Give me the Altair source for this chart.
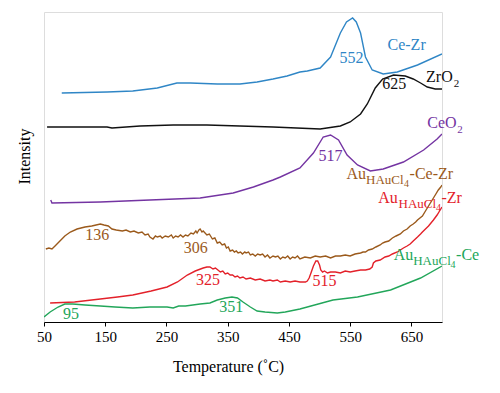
import altair as alt
import pandas as pd

# ---- data (temperature in deg C, intensity in arbitrary units) ----
cezr_t = [79, 153, 195, 235, 267, 289, 333, 370, 398, 424, 447, 468, 480, 501, 518, 534, 544, 554, 560, 567, 575, 586, 604, 627, 660, 700]
cezr_i = [229, 230, 231, 234, 239, 239, 238, 238, 240, 243, 246, 250, 251, 254, 265, 289, 300, 304, 300, 289, 265, 252, 248, 250, 257, 268]

zro2_t = [55, 153, 161, 207, 261, 316, 370, 424, 501, 534, 550, 567, 578, 591, 603, 621, 640, 653, 665, 676, 689, 700]
zro2_i = [195, 195, 194, 196, 197, 197, 196, 195, 193, 196, 200, 208, 218, 234, 243, 247, 246, 243, 239, 235, 233, 233]

ceo2_t = [61, 63, 142, 223, 305, 359, 392, 424, 436, 468, 490, 506, 518, 531, 545, 562, 583, 604, 637, 670, 692, 700]
ceo2_i = [122, 119, 120, 122, 124, 129, 135, 142, 145, 154, 169, 185, 187, 182, 167, 157, 151, 153, 160, 172, 183, 188]

aucezr_t = [53, 58, 63, 68, 76, 84, 93, 104, 117, 128, 142, 148, 155, 161, 168, 178, 184, 191, 197, 204, 210, 215, 220, 223, 228, 232, 235, 240, 243, 248, 253, 258, 261, 265, 269, 273, 277, 281, 285, 290, 294, 298, 300, 303, 305, 308, 310, 316, 320, 325, 329, 333, 337, 341, 345, 348, 351, 354, 358, 361, 364, 367, 371, 374, 378, 380, 384, 387, 391, 395, 399, 403, 407, 411, 415, 419, 424, 428, 432, 436, 440, 444, 448, 452, 456, 460, 464, 468, 476, 485, 493, 501, 510, 518, 526, 534, 542, 550, 558, 567, 571, 575, 580, 586, 592, 599, 603, 607, 613, 619, 625, 632, 637, 643, 648, 653, 657, 660, 664, 668, 672, 676, 681, 686, 690, 694, 698, 700]
aucezr_i = [73, 74, 73, 76, 81, 86, 90, 93, 95, 96, 98, 97, 96, 93, 92, 91, 92, 90, 91, 89, 90, 87, 88, 85, 83, 86, 85, 86, 84, 86, 85, 87, 84, 86, 85, 87, 85, 87, 86, 89, 88, 91, 89, 92, 93, 90, 91, 87, 88, 83, 84, 79, 80, 77, 78, 74, 75, 71, 72, 70, 71, 69, 70, 68, 70, 69, 70, 67, 68, 66, 68, 67, 68, 65, 67, 64, 66, 65, 66, 63, 65, 64, 66, 63, 65, 64, 66, 63, 65, 64, 66, 65, 66, 64, 66, 66, 67, 66, 68, 69, 70, 70, 72, 73, 75, 77, 79, 80, 81, 84, 86, 88, 91, 93, 96, 98, 100, 102, 104, 106, 110, 114, 119, 124, 128, 132, 135, 137]

auzr_t = [60, 100, 142, 170, 195, 225, 251, 268, 284, 297, 310, 316, 321, 326, 330, 338, 342, 346, 350, 354, 358, 362, 366, 370, 375, 380, 387, 395, 403, 411, 419, 424, 431, 436, 444, 452, 460, 468, 477, 480, 483, 486, 490, 494, 497, 500, 502, 505, 508, 513, 518, 526, 534, 542, 550, 558, 567, 575, 582, 586, 588, 592, 599, 607, 613, 619, 627, 632, 637, 643, 648, 653, 660, 665, 668, 673, 678, 686, 692, 696, 700]
auzr_i = [19, 20, 23, 25, 27, 31, 35, 40, 47, 51, 54, 55, 55, 53, 54, 50, 51, 48, 49, 47, 47, 45, 46, 44, 45, 43, 44, 42, 43, 41, 42, 41, 42, 40, 41, 40, 41, 40, 40, 41, 44, 49, 56, 61, 61, 57, 52, 50, 51, 49, 50, 50, 49, 51, 50, 51, 52, 52, 53, 55, 59, 61, 62, 65, 66, 68, 70, 72, 74, 76, 78, 81, 85, 88, 90, 93, 96, 102, 107, 111, 115]

auce_t = [50, 60, 73, 84, 97, 117, 142, 166, 195, 223, 251, 261, 270, 281, 305, 321, 333, 346, 357, 366, 375, 387, 398, 411, 431, 444, 452, 468, 522, 562, 616, 665, 700]
auce_i = [5, 10, 15, 18, 18, 17, 16, 15, 14, 15, 15, 14, 16, 16, 18, 19, 22, 24, 25, 24, 20, 15, 11, 10, 9, 10, 11, 13, 22, 25, 32, 44, 56]

series_names = ["Ce-Zr", "ZrO2", "CeO2", "Au-Ce-Zr", "Au-Zr", "Au-Ce"]
series_colors = ["#2f86c6", "#111111", "#7434a2", "#9b5a1c", "#e3212a", "#22a65a"]
series_data = [(cezr_t, cezr_i), (zro2_t, zro2_i), (ceo2_t, ceo2_i),
               (aucezr_t, aucezr_i), (auzr_t, auzr_i), (auce_t, auce_i)]

rows = []
for name, (ts, vs) in zip(series_names, series_data):
    for k, (t, v) in enumerate(zip(ts, vs)):
        rows.append({"series": name, "T": t, "I": v, "k": k})
lines_df = pd.DataFrame(rows)

# centred peak labels
peak_text = ["552", "625", "517", "136", "306", "325", "515", "95", "351"]
peak_t = [552, 622, 518, 137, 298, 318, 508, 94, 356]
peak_i = [259, 233, 161, 82, 69, 37, 36, 3, 10]
peak_color = ["#2f86c6", "#111111", "#7434a2", "#9b5a1c", "#9b5a1c", "#e3212a", "#e3212a", "#22a65a", "#22a65a"]

# left-aligned series labels (pieces, with subscripts)
name_text = ["Ce-Zr", "ZrO", "2", "CeO", "2",
             "Au", "HAuCl", "4", "-Ce-Zr",
             "Au", "HAuCl", "4", "-Zr",
             "Au", "HAuCl", "4", "-Ce"]
name_t = [611, 674, 719, 676, 725,
          544, 576, 638, 647,
          596, 629, 690, 699,
          621, 653, 714, 723]
name_i = [272, 240, 235, 194, 189,
          143, 138, 135, 143,
          119, 114, 111, 119,
          62, 57, 54, 62]
name_size = [16, 16, 11, 16, 11,
             16, 13, 10, 16,
             16, 13, 10, 16,
             16, 13, 10, 16]
name_color = ["#2f86c6", "#111111", "#111111", "#7434a2", "#7434a2",
              "#9b5a1c", "#9b5a1c", "#9b5a1c", "#9b5a1c",
              "#e3212a", "#e3212a", "#e3212a", "#e3212a",
              "#22a65a", "#22a65a", "#22a65a", "#22a65a"]

peaks_df = pd.DataFrame({"text": peak_text, "T": peak_t, "I": peak_i, "c": peak_color})
names_df = pd.DataFrame({"text": name_text, "T": name_t, "I": name_i, "c": name_color, "s": name_size})

xscale = alt.Scale(domain=[50, 700], nice=False, zero=False)
yscale = alt.Scale(domain=[0, 310], nice=False, zero=False)

SERIF = "Liberation Serif, Times New Roman, serif"

xaxis = alt.Axis(values=[50, 150, 250, 350, 450, 550, 650], grid=False,
                 title="Temperature (˚C)", titleFont=SERIF, titleFontSize=16,
                 titleFontWeight="normal", titleColor="black", titleX=184, titleY=49,
                 titleBaseline="alphabetic",
                 labelFont=SERIF, labelFontSize=15, labelColor="black",
                 labelPadding=3, tickSize=4, tickColor="black", domainColor="black",
                 labelFlush=False)
yaxis = alt.Axis(grid=False, domain=False, ticks=False, labels=False,
                 title="Intensity", titleFont=SERIF, titleFontSize=16,
                 titleFontWeight="normal", titleColor="black", titleX=-15, titleY=144,
                 titleBaseline="alphabetic", titleAngle=270)

lines = alt.Chart(lines_df).mark_line(strokeWidth=1.4, clip=True).encode(
    x=alt.X("T:Q", scale=xscale, axis=xaxis),
    y=alt.Y("I:Q", scale=yscale, axis=yaxis),
    color=alt.Color("series:N", scale=alt.Scale(domain=series_names, range=series_colors), legend=None),
    order="k:Q",
)

peaks = alt.Chart(peaks_df).mark_text(font=SERIF, fontSize=16, align="center",
                                      baseline="alphabetic").encode(
    x=alt.X("T:Q", scale=xscale), y=alt.Y("I:Q", scale=yscale),
    text="text:N", color=alt.Color("c:N", scale=None),
)

names = alt.Chart(names_df).mark_text(font=SERIF, align="left",
                                      baseline="alphabetic").encode(
    x=alt.X("T:Q", scale=xscale), y=alt.Y("I:Q", scale=yscale),
    text="text:N", color=alt.Color("c:N", scale=None), size=alt.Size("s:Q", scale=None),
)

chart = alt.layer(lines, peaks, names).properties(
    width=398, height=310,
    autosize=alt.AutoSizeParams(type="none"),
    padding={"left": 36, "top": 4, "right": 50, "bottom": 60},
).configure_view(stroke=None).configure(background="white")

chart.save("out.html", embed_options={"renderer": "svg", "actions": False})
